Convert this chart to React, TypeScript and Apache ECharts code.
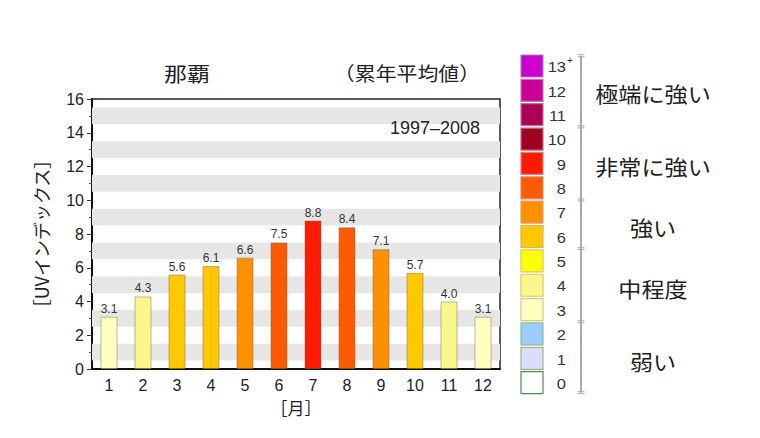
import React, { useEffect, useRef } from "react";
import * as echarts from "echarts";

const months = ["1", "2", "3", "4", "5", "6", "7", "8", "9", "10", "11", "12"];
const uvValues = [3.1, 4.3, 5.6, 6.1, 6.6, 7.5, 8.8, 8.4, 7.1, 5.7, 4.0, 3.1];
const stripeStarts = [0.5, 2.5, 4.5, 6.5, 8.5, 10.5, 12.5, 14.5];

// legend levels 0..13
const levelColors = [
  "#ffffff", "#dcdcff", "#99ccff", "#ffffc0", "#f9f78a", "#ffff00", "#ffc800",
  "#ff9100", "#ff5a00", "#ff1a00", "#a00020", "#ae0055", "#cc0099", "#cc00cc",
];
const levelBorders = [
  "#4f8f4f", "#9ab88a", "#9ab88a", "#cccc8a", "#d2c66a", "#d8c860", "#d8b460",
  "#d8a070", "#d88a70", "#d88080", "#b87080", "#b87898", "#b880a8", "#a880c0",
];
const levelLabels = ["0", "1", "2", "3", "4", "5", "6", "7", "8", "9", "10", "11", "12", "13"];
const groups = [
  { name: "極端に強い", from: 11, to: 13 },
  { name: "非常に強い", from: 8, to: 10 },
  { name: "強い", from: 6, to: 7 },
  { name: "中程度", from: 3, to: 5 },
  { name: "弱い", from: 0, to: 2 },
];

const NUM_FONT = "'Liberation Sans', Arial, 'Noto Sans CJK JP', sans-serif";
const JP_FONT = "'Noto Sans CJK JP', 'Liberation Sans', sans-serif";

export default function App() {
  const ref = useRef<HTMLDivElement>(null);
  useEffect(() => {
    if (!ref.current) return;
    const chart = echarts.init(ref.current, undefined, { renderer: "svg" });

    const legTop = 55;
    const pitch = 24.36;
    const sq = 22;
    const sqX = 521;
    const yTop = (lvl: number) => legTop + (13 - lvl) * pitch;

    const graphics: any[] = [];
    levelLabels.forEach((lab, lvl) => {
      const t = yTop(lvl);
      graphics.push({
        type: "rect",
        z: 100,
        shape: { x: sqX, y: t, width: sq, height: sq },
        style: { fill: levelColors[lvl], stroke: levelBorders[lvl], lineWidth: 1.2 },
      });
      graphics.push({
        type: "text",
        z: 100,
        x: 566,
        y: t + sq / 2 + 1,
        scaleX: 1.1,
        style: {
          text: lab,
          font: `15px ${NUM_FONT}`,
          fill: "#333",
          textAlign: "right",
          textVerticalAlign: "middle",
        },
      });
      if (lvl === 13) {
        graphics.push({
          type: "text",
          z: 100,
          x: 567,
          y: t + 5,
          style: {
            text: "+",
            font: `10px ${NUM_FONT}`,
            fill: "#333",
            textAlign: "left",
            textVerticalAlign: "middle",
          },
        });
      }
    });
    // bracket line
    const lineX = 581;
    const lineTop = 55.7;
    const lineBottom = 392.7;
    graphics.push({
      type: "line",
      z: 100,
      shape: { x1: lineX, y1: lineTop, x2: lineX, y2: lineBottom },
      style: { stroke: "#aaaaaa", lineWidth: 2 },
    });
    const seps = [lineTop, lineBottom];
    groups.forEach((g) => {
      if (g.from > 0) seps.push((yTop(g.from) + sq + yTop(g.from - 1)) / 2);
    });
    seps.forEach((s) => {
      graphics.push({
        type: "line",
        z: 100,
        shape: { x1: lineX - 3.5, y1: s - 1, x2: lineX + 3.5, y2: s - 1 },
        style: { stroke: "#aaaaaa", lineWidth: 1 },
      });
      graphics.push({
        type: "line",
        z: 100,
        shape: { x1: lineX - 3.5, y1: s + 1, x2: lineX + 3.5, y2: s + 1 },
        style: { stroke: "#aaaaaa", lineWidth: 1 },
      });
    });
    groups.forEach((g) => {
      const cy = (yTop(g.to) + yTop(g.from) + sq) / 2 + 2.5;
      graphics.push({
        type: "text",
        z: 100,
        x: 653,
        y: cy,
        scaleX: 1.1,
        style: {
          text: g.name,
          font: `21px ${JP_FONT}`,
          fill: "#222",
          textAlign: "center",
          textVerticalAlign: "middle",
        },
      });
    });
    // titles
    graphics.push({
      type: "text",
      z: 100,
      x: 187,
      y: 73,
      scaleX: 1.15,
      style: {
        text: "那覇",
        font: `20px ${JP_FONT}`,
        fill: "#222",
        textAlign: "center",
        textVerticalAlign: "middle",
      },
    });
    graphics.push({
      type: "text",
      z: 100,
      x: 407,
      y: 73,
      scaleX: 1.1,
      style: {
        text: "（累年平均値）",
        font: `19px ${JP_FONT}`,
        fill: "#222",
        textAlign: "center",
        textVerticalAlign: "middle",
      },
    });
    graphics.push({
      type: "text",
      z: 100,
      x: 435,
      y: 128,
      style: {
        text: "1997–2008",
        font: `18px ${NUM_FONT}`,
        fill: "#222",
        textAlign: "center",
        textVerticalAlign: "middle",
      },
    });

    chart.setOption({
      animation: false,
      grid: {
        left: 92,
        right: 260,
        top: 99,
        bottom: 69,
        show: true,
        borderColor: "#222",
        borderWidth: 1.5,
        backgroundColor: "#ffffff",
      },
      xAxis: {
        type: "category",
        data: months,
        name: "［月］",
        nameLocation: "middle",
        nameGap: 30,
        nameTextStyle: { fontFamily: JP_FONT, fontSize: 17, color: "#222" },
        axisLine: { lineStyle: { color: "#111", width: 2 } },
        axisTick: { alignWithLabel: true, length: 5, lineStyle: { color: "#333" } },
        axisLabel: { fontFamily: NUM_FONT, fontSize: 16, color: "#222", margin: 8 },
        splitLine: { show: false },
      },
      yAxis: {
        type: "value",
        min: 0,
        max: 16,
        interval: 2,
        name: "［UVインデックス］",
        nameLocation: "middle",
        nameGap: 42,
        nameRotate: 90,
        nameTextStyle: { fontFamily: JP_FONT, fontSize: 18, color: "#222" },
        axisLine: { show: true, lineStyle: { color: "#111", width: 2 } },
        axisTick: { show: true, length: 5, lineStyle: { color: "#333" } },
        minorTick: { show: true, splitNumber: 2, length: 3, lineStyle: { color: "#555" } },
        axisLabel: { fontFamily: NUM_FONT, fontSize: 16, color: "#222", margin: 8 },
        splitLine: { show: false },
      },
      graphic: graphics,
      series: [
        {
          type: "bar",
          barWidth: "50%",
          data: uvValues.map((v) => ({
            value: v,
            itemStyle: {
              color: levelColors[Math.min(13, Math.round(v))],
              borderColor: "rgba(110,100,80,0.45)",
              borderWidth: 1,
            },
          })),
          label: {
            show: true,
            position: "top",
            distance: 2,
            formatter: (p: any) => Number(p.value).toFixed(1),
            fontFamily: NUM_FONT,
            fontSize: 12,
            color: "#333",
          },
          markArea: {
            silent: true,
            itemStyle: { color: "#e6e6e6" },
            data: stripeStarts.map((s) => [{ yAxis: s }, { yAxis: s + 1 }]),
          },
        },
      ],
    });
    return () => chart.dispose();
  }, []);
  return (
    <div
      ref={ref}
      style={{ position: "absolute", left: 0, top: 0, width: 760, height: 438, background: "#fff" }}
    />
  );
}
